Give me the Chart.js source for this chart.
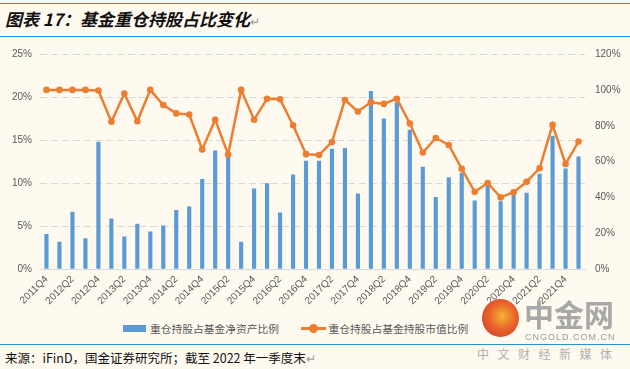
<!DOCTYPE html>
<html>
<head>
    <meta charset="utf-8">
    <title>基金重仓持股占比变化</title>
    <script src="https://cdn.jsdelivr.net/npm/chart.js"></script>
    <style>
        body {
            margin: 0;
            padding: 0;
            width: 630px;
            height: 369px;
            background: #fffaf0;
            font-family: "Liberation Sans", "Noto Sans CJK SC", sans-serif;
            position: relative;
            overflow: hidden;
        }
        .rule {
            position: absolute;
            left: 0;
            width: 630px;
            height: 1px;
            background: #2a8fd0;
        }
        #title {
            position: absolute;
            left: 5px;
            top: 6px;
            font-family: "Noto Sans CJK SC", sans-serif;
            font-size: 17px;
            font-weight: bold;
            font-style: italic;
            color: #111;
            white-space: nowrap;
        }
        .ret { color: #999; font-weight: normal; font-style: normal; font-size: 12px; }
        #chart-wrapper {
            position: absolute;
            left: 0;
            top: 38px;
            width: 630px;
            height: 273px;
        }
        #legend {
            position: absolute;
            top: 319px;
            left: 123px;
            font-family: "Noto Sans CJK SC", sans-serif;
            font-size: 10.75px;
            color: #595959;
            white-space: nowrap;
        }
        #legend span { display: inline-block; vertical-align: middle; }
        #source {
            position: absolute;
            left: 5px;
            top: 348px;
            font-family: "Noto Sans CJK SC", sans-serif;
            font-size: 12.5px;
            color: #111;
            white-space: nowrap;
        }
        #wm-logo {
            position: absolute;
            left: 482px;
            top: 299px;
            width: 37px;
            height: 38px;
            border-radius: 50%;
            background: radial-gradient(circle at 55% 45%, #f6b233 0%, #e8642a 45%, #c9302a 100%);
        }
        #wm1 {
            position: absolute; left: 524px; top: 295px;
            font-family: "Noto Sans CJK SC", sans-serif; font-weight: bold;
            font-size: 30px; color: #a8a8a8; line-height: 36px; white-space: nowrap;
        }
        #wm2 {
            position: absolute; left: 525px; top: 332px;
            font-size: 9px; color: #9a9a9a; letter-spacing: 1px; white-space: nowrap;
        }
        #wm3 {
            position: absolute; left: 477px; top: 345px;
            font-family: "Noto Sans CJK SC", sans-serif;
            font-size: 12px; color: #b0b0b0; letter-spacing: 8.5px; white-space: nowrap;
        }
    </style>
</head>
<body>

<div class="rule" style="top:3px"></div>
<div id="title">图表 17：基金重仓持股占比变化<span class="ret">↵</span></div>
<div class="rule" style="top:36px"></div>

<div id="chart-wrapper">
    <canvas id="myChart"></canvas>
</div>

<div id="legend">
    <span style="width:23px;height:7px;background:#5b9bd5;margin-right:4px"></span><span>重仓持股占基金净资产比例</span>
    <span style="width:25px;height:3px;background:#ed7d31;margin-left:20px;position:relative"><span style="position:absolute;left:8px;top:-3px;width:9px;height:9px;border-radius:50%;background:#ed7d31"></span></span><span style="margin-left:2px">重仓持股占基金持股市值比例</span>
</div>

<div id="wm-logo"></div>
<div id="wm1">中金网</div>
<div id="wm2">CNGOLD.COM.CN</div>

<div class="rule" style="top:344px"></div>
<div id="source">来源：iFinD，国金证券研究所；截至 2022 年一季度末<span class="ret">↵</span></div>
<div id="wm3">中文财经新媒体</div>

<script>
const quarters = [
    '2011Q4',
    '2012Q1', '2012Q2', '2012Q3', '2012Q4',
    '2013Q1', '2013Q2', '2013Q3', '2013Q4',
    '2014Q1', '2014Q2', '2014Q3', '2014Q4',
    '2015Q1', '2015Q2', '2015Q3', '2015Q4',
    '2016Q1', '2016Q2', '2016Q3', '2016Q4',
    '2017Q1', '2017Q2', '2017Q3', '2017Q4',
    '2018Q1', '2018Q2', '2018Q3', '2018Q4',
    '2019Q1', '2019Q2', '2019Q3', '2019Q4',
    '2020Q1', '2020Q2', '2020Q3', '2020Q4',
    '2021Q1', '2021Q2', '2021Q3', '2021Q4',
    '2022Q1'
];

// 重仓持股占基金净资产比例 (%)
const netAssetShare = [
    4.1, 3.2, 6.7, 3.6, 14.8, 5.9, 3.8, 5.3, 4.4, 5.1,
    6.9, 7.3, 10.5, 13.8, 13.1, 3.2, 9.4, 10.0, 6.6, 11.0,
    12.6, 12.6, 14.0, 14.1, 8.8, 20.7, 17.5, 19.4, 16.2, 11.9,
    8.4, 10.7, 11.2, 8.0, 9.8, 7.9, 8.7, 8.9, 11.1, 15.5,
    11.7, 13.1
];

// 重仓持股占基金持股市值比例 (%)
const marketValueShare = [
    100, 100, 100, 100, 99.7, 82.3, 98.0, 82.5, 100, 91.6,
    86.9, 86.3, 66.8, 83.4, 64.0, 100, 83.4, 95.1, 94.8, 80.3,
    64.2, 63.7, 71.0, 94.4, 88.0, 93.1, 92.2, 95.1, 81.3, 65.1,
    73.2, 69.3, 56.0, 43.2, 48.1, 40.1, 43.0, 48.8, 56.3, 80.5,
    58.7, 71.2
];

const leftTicks = [0, 5, 10, 15, 20, 25];
const rightTicks = [0, 20, 40, 60, 80, 100, 120];

const tickFont = { family: "'Liberation Sans', sans-serif", size: 10 };
const gridColor = '#d9d9d9';

document.addEventListener("DOMContentLoaded", () => {
    var ctx = document.getElementById('myChart').getContext('2d');
    new Chart(ctx, {
        data: {
            labels: quarters,
            datasets: [{
                type: 'line',
                label: '重仓持股占基金持股市值比例',
                data: marketValueShare,
                yAxisID: 'y2',
                borderColor: '#ed7d31',
                backgroundColor: '#ed7d31',
                borderWidth: 2.5,
                pointRadius: 3.3,
                pointBackgroundColor: '#ed7d31',
                pointBorderWidth: 0,
                tension: 0
            }, {
                type: 'bar',
                label: '重仓持股占基金净资产比例',
                data: netAssetShare,
                yAxisID: 'y',
                backgroundColor: '#5b9bd5',
                barPercentage: 0.32,
                categoryPercentage: 1.0
            }]
        },
        options: {
            responsive: true,
            maintainAspectRatio: false,
            animation: false,
            layout: { padding: { top: 4, left: 0, right: 0, bottom: 0 } },
            plugins: {
                legend: { display: false },
                tooltip: { enabled: false }
            },
            scales: {
                x: {
                    offset: true,
                    grid: { display: false, drawTicks: false },
                    border: { display: true, color: gridColor },
                    ticks: {
                        autoSkip: false,
                        maxRotation: 45,
                        minRotation: 45,
                        padding: 4,
                        color: '#595959',
                        font: tickFont,
                        callback: function (val, i) {
                            return i % 2 === 0 ? quarters[i] : '';
                        }
                    }
                },
                y: {
                    position: 'left',
                    min: 0,
                    max: 25,
                    afterBuildTicks: (s) => { s.ticks = leftTicks.map(v => ({ value: v })); },
                    afterFit: (s) => { s.width = 40; },
                    grid: {
                        color: gridColor,
                        lineWidth: 1,
                        drawTicks: false
                    },
                    border: { display: false, dash: [7, 4] },
                    ticks: {
                        padding: 8,
                        color: '#595959',
                        font: tickFont,
                        callback: (v) => v + '%'
                    }
                },
                y2: {
                    position: 'right',
                    min: 0,
                    max: 120,
                    afterBuildTicks: (s) => { s.ticks = rightTicks.map(v => ({ value: v })); },
                    afterFit: (s) => { s.width = 45; },
                    grid: { display: false, drawTicks: false },
                    border: { display: false },
                    ticks: {
                        padding: 10,
                        color: '#595959',
                        font: tickFont,
                        callback: (v) => v + '%'
                    }
                }
            }
        }
    });
});
</script>

</body>
</html>
